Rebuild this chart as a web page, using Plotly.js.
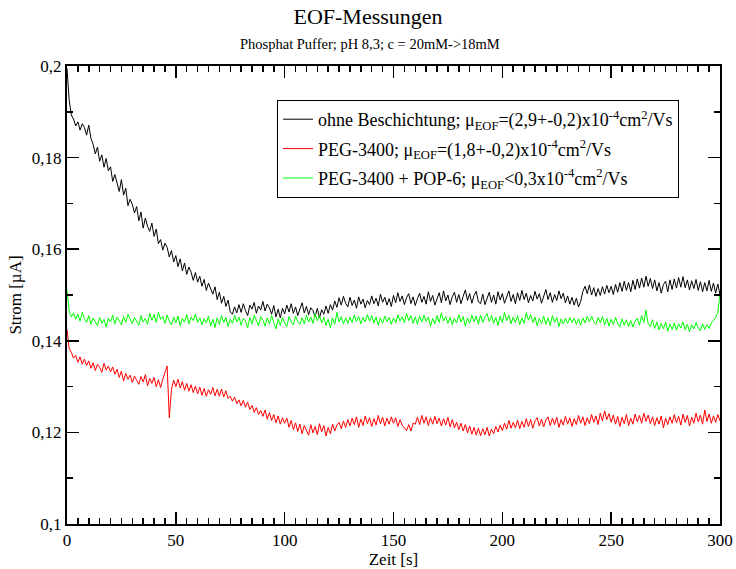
<!DOCTYPE html>
<html>
<head>
<meta charset="utf-8">
<script src="https://cdn.plot.ly/plotly-3.0.1.min.js"></script>
<style>html,body{margin:0;padding:0;background:#fff;}#chart{width:736px;height:569px;}</style>
</head>
<body>
<div id="chart"></div>
<script>
// time axis: 0 .. 300 s, one sample per second
const timeStart = 0;
const timeStep = 1;

const seriesNames = [
  "ohne Beschichtung; μ<sub>EOF</sub>=(2,9+-0,2)x10<sup>-4</sup>cm<sup>2</sup>/Vs",
  "PEG-3400; μ<sub>EOF</sub>=(1,8+-0,2)x10<sup>-4</sup>cm<sup>2</sup>/Vs",
  "PEG-3400 + POP-6; μ<sub>EOF</sub><0,3x10<sup>-4</sup>cm<sup>2</sup>/Vs"
];

const ohneBeschichtung = [
0.1995,0.1925,0.1893,0.1884,0.1869,0.1878,0.1860,0.1874,0.1866,0.1849,
0.1871,0.1842,0.1829,0.1808,0.1823,0.1792,0.1806,0.1779,0.1798,0.1771,
0.1780,0.1748,0.1763,0.1741,0.1726,0.1752,0.1718,0.1733,0.1695,0.1709,
0.1698,0.1679,0.1693,0.1662,0.1681,0.1646,0.1668,0.1650,0.1639,0.1657,
0.1628,0.1644,0.1612,0.1621,0.1598,0.1613,0.1604,0.1583,0.1597,0.1572,
0.1586,0.1562,0.1579,0.1553,0.1570,0.1545,0.1561,0.1550,0.1532,0.1549,
0.1528,0.1541,0.1519,0.1534,0.1510,0.1526,0.1513,0.1502,0.1518,0.1490,
0.1506,0.1482,0.1497,0.1475,0.1489,0.1463,0.1458,0.1474,0.1461,0.1479,
0.1462,0.1481,0.1466,0.1455,0.1478,0.1469,0.1484,0.1460,0.1476,0.1467,
0.1486,0.1465,0.1480,0.1472,0.1458,0.1477,0.1452,0.1469,0.1450,0.1471,
0.1459,0.1478,0.1463,0.1481,0.1460,0.1474,0.1455,0.1470,0.1483,0.1461,
0.1475,0.1457,0.1472,0.1466,0.1453,0.1471,0.1450,0.1468,0.1458,0.1476,
0.1460,0.1479,0.1467,0.1487,0.1473,0.1494,0.1478,0.1497,0.1482,0.1474,
0.1495,0.1477,0.1489,0.1471,0.1496,0.1480,0.1491,0.1472,0.1488,0.1479,
0.1498,0.1481,0.1493,0.1476,0.1502,0.1484,0.1495,0.1478,0.1492,0.1475,
0.1499,0.1483,0.1505,0.1486,0.1498,0.1479,0.1494,0.1503,0.1481,0.1496,
0.1477,0.1492,0.1504,0.1484,0.1497,0.1480,0.1507,0.1486,0.1499,0.1478,
0.1493,0.1505,0.1483,0.1509,0.1487,0.1500,0.1479,0.1496,0.1506,0.1484,
0.1501,0.1481,0.1497,0.1511,0.1488,0.1503,0.1482,0.1499,0.1508,0.1485,
0.1481,0.1502,0.1479,0.1495,0.1506,0.1484,0.1500,0.1480,0.1507,0.1489,
0.1503,0.1482,0.1498,0.1509,0.1486,0.1501,0.1481,0.1505,0.1488,0.1510,
0.1490,0.1504,0.1483,0.1499,0.1487,0.1508,0.1491,0.1503,0.1482,0.1500,
0.1512,0.1490,0.1505,0.1484,0.1501,0.1488,0.1509,0.1492,0.1504,0.1483,
0.1498,0.1480,0.1495,0.1478,0.1493,0.1474,0.1486,0.1508,0.1519,0.1503,
0.1522,0.1500,0.1516,0.1497,0.1514,0.1499,0.1518,0.1502,0.1521,0.1505,
0.1519,0.1501,0.1523,0.1506,0.1527,0.1508,0.1530,0.1510,0.1527,0.1507,
0.1532,0.1512,0.1535,0.1515,0.1537,0.1517,0.1541,0.1519,0.1536,0.1514,
0.1533,0.1509,0.1527,0.1504,0.1523,0.1530,0.1507,0.1533,0.1512,0.1535,
0.1515,0.1538,0.1517,0.1540,0.1516,0.1533,0.1511,0.1531,0.1514,0.1534,
0.1510,0.1529,0.1507,0.1527,0.1509,0.1532,0.1508,0.1526,0.1504,0.1524,
0.1500
];

const peg3400 = [
0.1425,0.1383,0.1375,0.1362,0.1368,0.1353,0.1365,0.1349,0.1360,0.1346,
0.1356,0.1340,0.1352,0.1335,0.1349,0.1342,0.1331,0.1351,0.1336,0.1345,
0.1332,0.1343,0.1327,0.1338,0.1320,0.1334,0.1312,0.1329,0.1316,0.1325,
0.1309,0.1323,0.1314,0.1305,0.1322,0.1310,0.1326,0.1302,0.1318,0.1307,
0.1320,0.1300,0.1315,0.1298,0.1316,0.1330,0.1345,0.1232,0.1294,0.1314,
0.1300,0.1316,0.1297,0.1311,0.1292,0.1307,0.1290,0.1304,0.1287,0.1301,
0.1284,0.1299,0.1281,0.1296,0.1279,0.1293,0.1283,0.1298,0.1280,0.1294,
0.1279,0.1295,0.1277,0.1291,0.1274,0.1279,0.1268,0.1277,0.1263,0.1271,
0.1258,0.1270,0.1255,0.1266,0.1250,0.1259,0.1244,0.1254,0.1239,0.1248,
0.1235,0.1249,0.1229,0.1243,0.1226,0.1239,0.1221,0.1236,0.1218,0.1232,
0.1220,0.1231,0.1211,0.1226,0.1206,0.1221,0.1202,0.1218,0.1197,0.1215,
0.1204,0.1194,0.1217,0.1199,0.1213,0.1195,0.1219,0.1201,0.1215,0.1192,
0.1211,0.1197,0.1218,0.1203,0.1216,0.1222,0.1208,0.1225,0.1211,0.1228,
0.1214,0.1231,0.1217,0.1234,0.1211,0.1229,0.1215,0.1236,0.1219,0.1232,
0.1213,0.1230,0.1216,0.1237,0.1219,0.1233,0.1214,0.1231,0.1218,0.1234,
0.1220,0.1232,0.1213,0.1228,0.1216,0.1209,0.1204,0.1217,0.1203,0.1220,
0.1218,0.1233,0.1217,0.1237,0.1220,0.1234,0.1215,0.1232,0.1218,0.1235,
0.1219,0.1231,0.1214,0.1230,0.1216,0.1233,0.1212,0.1228,0.1210,0.1222,
0.1206,0.1220,0.1203,0.1217,0.1199,0.1214,0.1196,0.1211,0.1194,0.1209,
0.1193,0.1208,0.1195,0.1211,0.1192,0.1207,0.1197,0.1213,0.1201,0.1216,
0.1204,0.1220,0.1207,0.1226,0.1209,0.1222,0.1210,0.1227,0.1208,0.1224,
0.1211,0.1230,0.1213,0.1228,0.1209,0.1225,0.1232,0.1214,0.1229,0.1212,
0.1227,0.1234,0.1215,0.1231,0.1217,0.1233,0.1211,0.1228,0.1216,0.1235,
0.1218,0.1232,0.1213,0.1230,0.1217,0.1237,0.1220,0.1234,0.1215,0.1232,
0.1219,0.1239,0.1222,0.1236,0.1217,0.1242,0.1225,0.1247,0.1228,0.1241,
0.1222,0.1238,0.1218,0.1235,0.1213,0.1233,0.1219,0.1239,0.1215,0.1231,
0.1218,0.1240,0.1223,0.1237,0.1220,0.1242,0.1224,0.1238,0.1219,0.1234,
0.1215,0.1232,0.1218,0.1236,0.1210,0.1231,0.1217,0.1234,0.1220,0.1239,
0.1221,0.1235,0.1216,0.1240,0.1222,0.1237,0.1214,0.1233,0.1220,0.1242,
0.1223,0.1238,0.1218,0.1249,0.1224,0.1240,0.1220,0.1236,0.1222,0.1239,
0.1225
];

const peg3400Pop6 = [
0.1512,0.1465,0.1452,0.1461,0.1447,0.1458,0.1443,0.1462,0.1449,0.1440,
0.1455,0.1436,0.1450,0.1442,0.1433,0.1451,0.1438,0.1447,0.1430,0.1449,
0.1441,0.1456,0.1437,0.1452,0.1444,0.1435,0.1453,0.1440,0.1458,0.1446,
0.1437,0.1451,0.1443,0.1434,0.1455,0.1441,0.1449,0.1436,0.1460,0.1445,
0.1457,0.1440,0.1462,0.1447,0.1453,0.1438,0.1456,0.1443,0.1435,0.1452,
0.1439,0.1454,0.1433,0.1449,0.1441,0.1457,0.1437,0.1452,0.1444,0.1458,
0.1440,0.1450,0.1435,0.1448,0.1439,0.1454,0.1432,0.1447,0.1429,0.1450,
0.1436,0.1455,0.1440,0.1451,0.1431,0.1447,0.1438,0.1456,0.1441,0.1452,
0.1434,0.1449,0.1443,0.1428,0.1451,0.1437,0.1456,0.1442,0.1433,0.1453,
0.1445,0.1432,0.1450,0.1437,0.1455,0.1440,0.1426,0.1448,0.1434,0.1451,
0.1438,0.1431,0.1453,0.1441,0.1435,0.1454,0.1442,0.1436,0.1450,0.1437,
0.1456,0.1441,0.1452,0.1438,0.1459,0.1444,0.1455,0.1439,0.1451,0.1434,
0.1447,0.1428,0.1450,0.1436,0.1462,0.1441,0.1453,0.1437,0.1450,0.1438,
0.1452,0.1440,0.1456,0.1442,0.1453,0.1437,0.1451,0.1441,0.1457,0.1443,
0.1455,0.1439,0.1452,0.1434,0.1450,0.1438,0.1454,0.1442,0.1451,0.1436,
0.1450,0.1439,0.1456,0.1443,0.1453,0.1440,0.1460,0.1444,0.1455,0.1438,
0.1452,0.1436,0.1454,0.1441,0.1456,0.1442,0.1452,0.1432,0.1449,0.1437,
0.1455,0.1440,0.1461,0.1443,0.1453,0.1438,0.1451,0.1435,0.1449,0.1439,
0.1457,0.1441,0.1453,0.1432,0.1450,0.1438,0.1456,0.1442,0.1454,0.1436,
0.1456,0.1440,0.1452,0.1459,0.1442,0.1455,0.1438,0.1451,0.1434,0.1454,
0.1440,0.1462,0.1444,0.1456,0.1437,0.1452,0.1440,0.1455,0.1435,0.1450,
0.1438,0.1461,0.1445,0.1457,0.1440,0.1452,0.1433,0.1449,0.1437,0.1454,
0.1436,0.1450,0.1433,0.1455,0.1440,0.1451,0.1431,0.1448,0.1437,0.1449,
0.1438,0.1451,0.1440,0.1449,0.1436,0.1448,0.1434,0.1450,0.1439,0.1453,
0.1441,0.1454,0.1442,0.1436,0.1451,0.1439,0.1453,0.1435,0.1449,0.1432,
0.1447,0.1436,0.1451,0.1438,0.1430,0.1448,0.1434,0.1446,0.1431,0.1444,
0.1430,0.1443,0.1449,0.1434,0.1455,0.1440,0.1467,0.1437,0.1431,0.1446,
0.1427,0.1441,0.1424,0.1438,0.1426,0.1440,0.1421,0.1436,0.1425,0.1439,
0.1423,0.1437,0.1428,0.1441,0.1424,0.1436,0.1420,0.1435,0.1426,0.1440,
0.1428,0.1422,0.1437,0.1425,0.1435,0.1427,0.1439,0.1444,0.1450,0.1462,
0.1502
];

const seriesColors = ["#000000", "#ff0000", "#00ff00"];
const seriesData = [ohneBeschichtung, peg3400, peg3400Pop6];

const FONT = "'Liberation Serif', 'Times New Roman', serif";

const traces = seriesData.map((ys, i) => ({
  type: "scatter",
  mode: "lines",
  x0: timeStart,
  dx: timeStep,
  y: ys,
  name: seriesNames[i],
  legendgroup: "g" + i,
  line: { color: seriesColors[i], width: 1 }
}));

const axisCommon = {
  showline: true,
  linecolor: "#000",
  linewidth: 2,
  mirror: "allticks",
  ticks: "inside",
  ticklen: 12,
  tickwidth: 1.5,
  tickcolor: "#000",
  showgrid: false,
  zeroline: false,
  tickfont: { family: FONT, size: 17, color: "#000" }
};

const layout = {
  width: 736,
  height: 569,
  paper_bgcolor: "#fff",
  plot_bgcolor: "#fff",
  separators: ",.",
  font: { family: FONT, color: "#000" },
  margin: { l: 67, r: 16, t: 66, b: 45 },
  title: {
    text: "EOF-Messungen",
    font: { family: FONT, size: 22, color: "#000" },
    xref: "container", x: 0.5, xanchor: "center",
    yref: "container", y: 1 - 16 / 569, yanchor: "middle"
  },
  annotations: [{
    text: "Phosphat Puffer; pH 8,3; c = 20mM->18mM",
    xref: "paper", yref: "paper",
    x: (370 - 67) / 653, y: (524 - 44) / 458,
    xanchor: "center", yanchor: "middle",
    showarrow: false,
    font: { family: FONT, size: 14.5, color: "#000" }
  }],
  xaxis: Object.assign({}, axisCommon, {
    range: [0, 300],
    tick0: 0, dtick: 50,
    minor: { dtick: 5, ticks: "inside", ticklen: 6, tickwidth: 1.5, tickcolor: "#000", showgrid: false },
    title: { text: "Zeit [s]", font: { family: FONT, size: 17, color: "#000" }, standoff: 2 }
  }),
  yaxis: Object.assign({}, axisCommon, {
    range: [0.1, 0.2],
    tick0: 0.1, dtick: 0.02,
    minor: { dtick: 0.01, ticks: "inside", ticklen: 6, tickwidth: 1.5, tickcolor: "#000", showgrid: false },
    title: { text: "Strom [µA]", font: { family: FONT, size: 17, color: "#000" }, standoff: 6 }
  }),
  showlegend: true,
  legend: {
    x: (277 - 67) / 653, y: (524 - 100) / 458,
    xanchor: "left", yanchor: "top",
    bgcolor: "#fff",
    bordercolor: "#000",
    borderwidth: 1,
    tracegroupgap: 3,
    font: { family: FONT, size: 18, color: "#000" }
  }
};

Plotly.newPlot("chart", traces, layout, { staticPlot: true, displayModeBar: false });
</script>
</body>
</html>
